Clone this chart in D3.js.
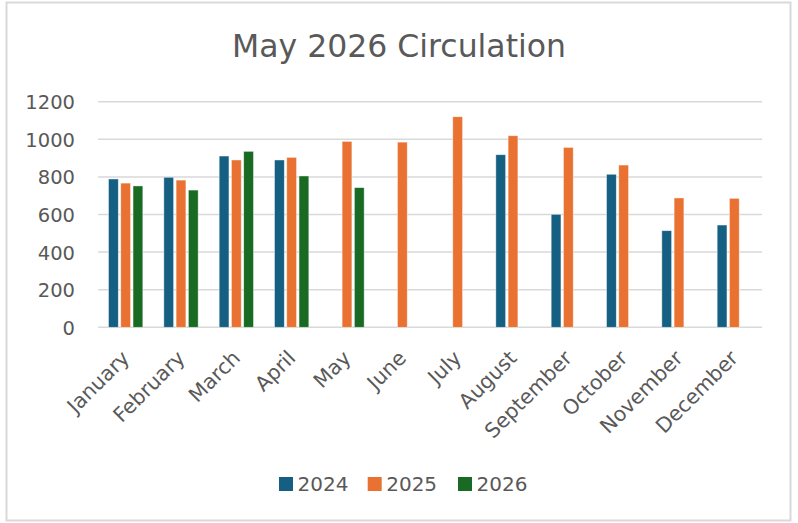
<!DOCTYPE html>
<html>
<head>
<meta charset="utf-8">
<script src="https://cdn.jsdelivr.net/npm/d3@7"></script>
<style>
  html, body { margin: 0; padding: 0; background: #fff; }
  svg { display: block; font-family: "DejaVu Sans", sans-serif; }
</style>
</head>
<body>
<svg id="chart" width="798" height="523"></svg>
<script>
const months = ["January", "February", "March", "April", "May", "June",
  "July", "August", "September", "October", "November", "December"];
const years = ["2024", "2025", "2026"];
const v2024 = [789, 798, 911, 890, null, null, null, 918, 601, 814, 514, 544];
const v2025 = [767, 783, 890, 904, 989, 985, 1120, 1019, 957, 863, 688, 686];
const v2026 = [752, 730, 936, 805, 743, null, null, null, null, null, null, null];
const yTicks = [0, 200, 400, 600, 800, 1000, 1200];
const colors = ["#156082", "#E97132", "#196B24"];

const seriesValues = [v2024, v2025, v2026];

const svg = d3.select("#chart");
const textColor = "#595959";

// outer border
svg.append("rect")
  .attr("x", 6.5).attr("y", 2.5)
  .attr("width", 784).attr("height", 518)
  .attr("fill", "#fff")
  .attr("stroke", "#d9d9d9")
  .attr("stroke-width", 2);

// title
svg.append("text")
  .attr("x", 399).attr("y", 56.5)
  .attr("text-anchor", "middle")
  .attr("font-size", 31.5)
  .attr("fill", textColor)
  .text("May 2026 Circulation");

const plot = { left: 98, right: 762, top: 101.7, bottom: 327.3 };

const y = d3.scaleLinear().domain([0, 1200]).range([plot.bottom, plot.top]);
const x = d3.scaleBand().domain(months).range([plot.left, plot.right]);
const x1 = d3.scaleBand().domain(years).range([-18.4, 18.4])
  .paddingInner(0.2).paddingOuter(0.1);

// gridlines
svg.append("g")
  .selectAll("line")
  .data(yTicks)
  .join("line")
  .attr("x1", plot.left).attr("x2", plot.right)
  .attr("y1", (d) => y(d)).attr("y2", (d) => y(d))
  .attr("stroke", "#d9d9d9")
  .attr("stroke-width", 1.5);

// y axis labels
const yAxis = svg.append("g")
  .attr("transform", `translate(${plot.left - 23}, 0)`)
  .call(d3.axisLeft(y).tickValues(yTicks).tickFormat(d3.format("d"))
    .tickSize(0).tickPadding(0));
yAxis.select(".domain").remove();
yAxis.selectAll("text")
  .attr("font-family", "DejaVu Sans, sans-serif")
  .attr("font-size", 19.5)
  .attr("fill", textColor)
  .attr("dy", "0.36em");

// bars
const barData = [];
months.forEach((m, i) => {
  years.forEach((yr, j) => {
    const v = seriesValues[j][i];
    if (v != null) barData.push({ month: m, year: yr, value: v, color: colors[j] });
  });
});

svg.append("g")
  .selectAll("rect")
  .data(barData)
  .join("rect")
  .attr("x", (d) => x(d.month) + x.bandwidth() / 2 + x1(d.year))
  .attr("width", x1.bandwidth())
  .attr("y", (d) => y(d.value))
  .attr("height", (d) => y(0) - y(d.value))
  .attr("fill", (d) => d.color)
  .attr("stroke", "#ffffff")
  .attr("stroke-opacity", 0.6)
  .attr("stroke-width", 0.75);

// x axis labels
const xAxis = svg.append("g")
  .attr("transform", `translate(0, ${plot.bottom})`)
  .call(d3.axisBottom(x).tickSize(0).tickPadding(0));
xAxis.select(".domain").remove();
xAxis.selectAll("text")
  .attr("font-family", "DejaVu Sans, sans-serif")
  .attr("font-size", 20.5)
  .attr("fill", textColor)
  .attr("text-anchor", "end")
  .attr("dy", 0)
  .attr("y", 0)
  .attr("transform", "translate(5, 32) rotate(-45)");

// legend
const legendX = [279, 367.7, 458];
const legend = svg.append("g")
  .selectAll("g")
  .data(years)
  .join("g")
  .attr("transform", (d, i) => `translate(${legendX[i]}, 477)`);
legend.append("rect")
  .attr("width", 14).attr("height", 14)
  .attr("fill", (d, i) => colors[i]);
legend.append("text")
  .attr("x", 18.5).attr("y", 14)
  .attr("font-size", 20)
  .attr("fill", textColor)
  .text((d) => d);
</script>
</body>
</html>
